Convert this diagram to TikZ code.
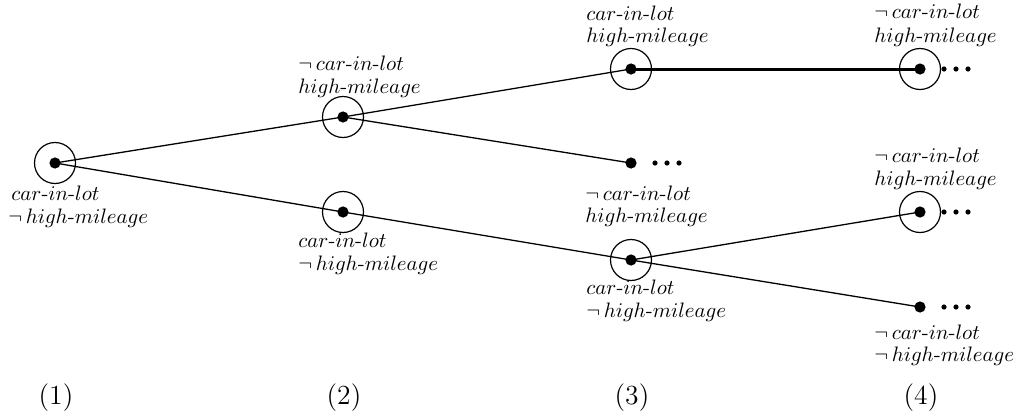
\documentclass[tikz,border=0pt]{standalone}
\usepackage{graphicx}
\newcommand\Cil{\scalebox{1.045}{$car\mbox{-}in\mbox{-}lot$}}
\newcommand\NCil{\scalebox{1.045}{$\neg\,car\mbox{-}in\mbox{-}lot$}}
\newcommand\Hm{\scalebox{1.045}{$high\mbox{-}mileage$}}
\newcommand\NHm{\scalebox{1.045}{$\neg\,high\mbox{-}mileage$}}
\newcommand\Stp[1]{\scalebox{1.15}{\large(#1)}}
\begin{document}
\begin{tikzpicture}[x=0.5pt,y=-0.5pt,
  dot/.style={circle,fill=black,inner sep=0pt,minimum size=5.6pt},
  ring/.style={circle,draw=black,line width=0.6pt,inner sep=0pt,minimum size=20.5pt},
  lab/.style={anchor=base west,inner sep=0pt},
  step label/.style={anchor=base,inner sep=0pt},
  edge line/.style={line width=0.65pt},
  thick edge/.style={line width=1.5pt}]
\useasboundingbox (0,0) rectangle (1014,413);
% points
\node[dot] (n1) at (55,163) {};
\node[dot] (n2a) at (343,117) {};
\node[dot] (n2b) at (343,212) {};
\node[dot] (n3a) at (631,69) {};
\node[dot] (n3b) at (631,163) {};
\node[dot] (n3c) at (631,260) {};
\node[dot] (n4a) at (920,69) {};
\node[dot] (n4b) at (920,212) {};
\node[dot] (n4c) at (920,307) {};
% rings
\node[ring] (r1) at (n1) {};
\node[ring] (r2a) at (n2a) {};
\node[ring] (r2b) at (n2b) {};
\node[ring] (r3a) at (n3a) {};
\node[ring] (r3c) at (n3c) {};
\node[ring] (r4a) at (n4a) {};
\node[ring] (r4b) at (n4b) {};
% continuation dots
\foreach \p in {n3b,n4a,n4b,n4c}{
  \foreach \dx in {24,36,48}{
    \fill ([xshift=\dx*0.5pt]\p.center) circle[radius=1.3pt];
  }
}
% edges
\draw[edge line] (n1.center) -- (n2a.center);
\draw[edge line] (n1.center) -- (n2b.center);
\draw[edge line] (n2a.center) -- (n3a.center);
\draw[edge line] (n2a.center) -- (n3b.center);
\draw[edge line] (n2b.center) -- (n3c.center);
\draw[thick edge] (n3a.center) -- (n4a.center);
\draw[edge line] (n3c.center) -- (n4b.center);
\draw[edge line] (n3c.center) -- (n4c.center);
% labels
\node[lab] (l1a) at (11,200) {\Cil};
\node[lab] (l1b) at (8,223) {\NHm};
\node[lab] (l2aa) at (298,70) {\NCil};
\node[lab] (l2ab) at (298,93) {\Hm};
\node[lab] (l2ba) at (298,247) {\Cil};
\node[lab] (l2bb) at (298,270) {\NHm};
\node[lab] (l3aa) at (586,20) {\Cil};
\node[lab] (l3ab) at (586,42) {\Hm};
\node[lab] (l3ba) at (585,200) {\NCil};
\node[lab] (l3bb) at (585,222) {\Hm};
\node[lab] (l3ca) at (586,294) {\Cil};
\node[lab] (l3cb) at (586,317) {\NHm};
\node[lab] (l4aa) at (874,18) {\NCil};
\node[lab] (l4ab) at (874,42) {\Hm};
\node[lab] (l4ba) at (874,162) {\NCil};
\node[lab] (l4bb) at (874,185) {\Hm};
\node[lab] (l4ca) at (874,339) {\NCil};
\node[lab] (l4cb) at (874,361) {\NHm};
% step labels
\node[step label] (s1) at (56,404) {\Stp{1}};
\node[step label] (s2) at (344,404) {\Stp{2}};
\node[step label] (s3) at (632,404) {\Stp{3}};
\node[step label] (s4) at (921,404) {\Stp{4}};
\end{tikzpicture}
\end{document}
